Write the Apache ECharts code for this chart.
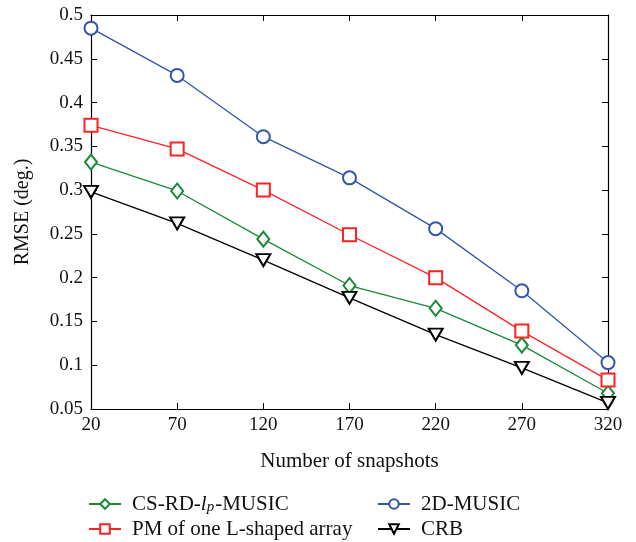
<!DOCTYPE html>
<html>
<head>
<meta charset="utf-8">
<script src="https://cdn.jsdelivr.net/npm/echarts@6/dist/echarts.min.js"></script>
<style>html,body{margin:0;padding:0;background:#fff}#c{width:636px;height:542px}</style>
</head>
<body>
<div id="c"></div>
<script>
const snapshots = ['20','70','120','170','220','270','320'];
const csrd = [0.332, 0.299, 0.244, 0.191, 0.165, 0.123, 0.068];
const pm = [0.374, 0.347, 0.300, 0.249, 0.200, 0.139, 0.083];
const music2d = [0.485, 0.431, 0.361, 0.314, 0.256, 0.185, 0.103];
const crb = [0.298, 0.262, 0.220, 0.177, 0.135, 0.097, 0.057];
const names = ['CS-RD-lp-MUSIC', 'PM of one L-shaped array', '2D-MUSIC', 'CRB'];

const FONT = 'Liberation Serif';
const chart = echarts.init(document.getElementById('c'));
const lbl = {fontFamily: FONT, fontSize: 19, color: '#111'};
const legendText = {
  fontFamily: FONT, fontSize: 21, color: '#111', lineHeight: 22, padding: [0, 0, 0, 6],
  rich: {
    n: {fontFamily: FONT, fontSize: 21, color: '#111', lineHeight: 22},
    i: {fontFamily: FONT, fontSize: 21, fontStyle: 'italic', color: '#111', lineHeight: 22},
    s: {fontFamily: FONT, fontSize: 15, fontStyle: 'italic', color: '#111', lineHeight: 15, verticalAlign: 'bottom', padding: [7, 1, 0, 0]}
  }
};
const fmt = n => n === names[0] ? '{n|CS-RD-}{i|l}{s|p}{n|-MUSIC}' : '{n|' + n + '}';
function mk(name, data, color, symbol, size, rotate) {
  return {
    name, type: 'line', data, symbol, symbolSize: size, symbolRotate: rotate || 0,
    showSymbol: true,
    lineStyle: {color, width: 1.3},
    itemStyle: {color, borderColor: color, borderWidth: 1.2},
    emphasis: {disabled: true}, animation: false, z: 3
  };
}
function leg(name, left, top) {
  return {
    left, top, orient: 'horizontal', itemWidth: 32, itemHeight: 12, itemGap: 5,
    data: [name], formatter: fmt, textStyle: legendText, selectedMode: false, padding: 0
  };
}
chart.setOption({
  backgroundColor: '#fff',
  animation: false,
  grid: {left: 91, right: 28, top: 15, bottom: 133},
  xAxis: [{
    type: 'category', data: snapshots, boundaryGap: false,
    name: 'Number of snapshots', nameLocation: 'middle', nameGap: 42,
    nameTextStyle: {fontFamily: FONT, fontSize: 21, color: '#111'},
    axisLine: {lineStyle: {color: '#000', width: 1.2}},
    axisTick: {inside: true, length: 6, lineStyle: {color: '#000'}},
    axisLabel: Object.assign({margin: 7}, lbl),
    splitLine: {show: false}
  }, {
    type: 'category', data: snapshots, boundaryGap: false, position: 'top',
    axisLine: {lineStyle: {color: '#000', width: 1.2}},
    axisTick: {inside: true, length: 6, lineStyle: {color: '#000'}},
    axisLabel: {show: false}, splitLine: {show: false}
  }],
  yAxis: [{
    type: 'value', min: 0.05, max: 0.5, interval: 0.05,
    name: 'RMSE (deg.)', nameLocation: 'middle', nameGap: 58, nameRotate: 90,
    nameTextStyle: {fontFamily: FONT, fontSize: 20, color: '#111'},
    axisLine: {show: true, lineStyle: {color: '#000', width: 1.2}},
    axisTick: {show: true, inside: true, length: 6, lineStyle: {color: '#000'}},
    axisLabel: Object.assign({margin: 8, formatter: v => String(+v.toFixed(2))}, lbl),
    splitLine: {show: false}
  }, {
    type: 'value', min: 0.05, max: 0.5, interval: 0.05, position: 'right',
    axisLine: {show: true, lineStyle: {color: '#000', width: 1.2}},
    axisTick: {show: true, inside: true, length: 6, lineStyle: {color: '#000'}},
    axisLabel: {show: false}, splitLine: {show: false}
  }],
  legend: [
    leg(names[0], 88, 493),
    leg(names[1], 88, 518),
    leg(names[2], 377, 493),
    leg(names[3], 377, 518)
  ],
  series: [
    mk(names[0], csrd, '#1a8a3a', 'emptyDiamond', [12, 15]),
    mk(names[1], pm, '#ff2222', 'emptyRect', 13),
    mk(names[2], music2d, '#3355aa', 'emptyCircle', 13),
    mk(names[3], crb, '#000000', 'emptyTriangle', [14, 12], 180)
  ]
});
</script>
</body>
</html>
